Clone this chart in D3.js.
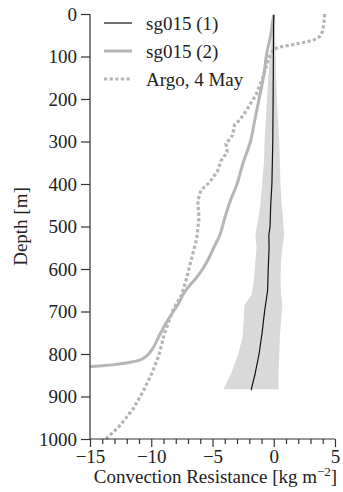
<!DOCTYPE html>
<html>
<head>
<meta charset="utf-8">
<script src="https://cdn.jsdelivr.net/npm/d3@7"></script>
<style>
html,body{margin:0;padding:0;background:#fff;}
svg text{font-family:"Liberation Serif","Times New Roman",serif;fill:#222;}
</style>
</head>
<body>
<svg id="chart" width="343" height="492"></svg>
<script>
// ---- data (depth in m, convection resistance in kg m^-2) ----
const sg1Depth = [2, 50, 100, 200, 300, 400, 450, 500, 520, 550, 600, 650, 690, 700, 750, 800, 850, 885];
const sg1Value = [0.0, -0.02, -0.03, -0.05, -0.08, -0.15, -0.25, -0.3, -0.4, -0.38, -0.45, -0.5, -0.7, -0.75, -0.95, -1.2, -1.55, -1.85];

const envDepth = [2, 50, 100, 150, 200, 250, 300, 350, 400, 450, 480, 520, 550, 580, 620, 660, 685, 720, 760, 800, 840, 883];
const envLow   = [-0.03, -0.15, -0.3, -0.45, -0.55, -0.65, -0.75, -0.8, -0.95, -1.1, -1.25, -1.5, -1.4, -1.5, -1.6, -1.8, -2.4, -2.45, -2.55, -2.9, -3.4, -4.1];
const envHigh  = [0.03, 0.12, 0.15, 0.2, 0.25, 0.35, 0.45, 0.5, 0.55, 0.65, 0.75, 0.85, 0.7, 0.6, 0.55, 0.6, 0.7, 0.6, 0.5, 0.45, 0.4, 0.38];

const sg2Depth = [2, 20, 50, 90, 150, 200, 250, 300, 350, 400, 440, 480, 520, 550, 580, 600, 620, 640, 660, 680, 700, 730, 760, 790, 805, 815, 820, 825, 828, 830];
const sg2Value = [0.0, -0.1, -0.25, -0.55, -0.85, -1.2, -1.55, -1.9, -2.5, -3.0, -3.55, -4.0, -4.4, -4.9, -5.4, -5.8, -6.3, -6.9, -7.4, -7.75, -8.2, -8.85, -9.4, -9.95, -10.4, -11.0, -11.8, -13.0, -14.2, -15];

const argoDepth = [0, 20, 40, 55, 62, 67, 72, 77, 82, 90, 100, 150, 190, 230, 250, 260, 285, 305, 325, 345, 370, 395, 415, 440, 480, 530, 580, 625, 660, 695, 750, 805, 845, 890, 930, 970, 1000];
const argoValue = [4.15, 4.1, 4.0, 3.7, 3.2, 2.4, 1.6, 0.6, 0.0, -0.15, -0.35, -0.9, -1.45, -2.3, -2.8, -3.2, -3.35, -3.9, -3.8, -4.3, -4.6, -5.2, -5.95, -6.2, -6.1, -6.3, -6.75, -7.15, -7.5, -8.2, -8.9, -9.4, -9.95, -10.7, -11.5, -12.6, -13.7];

const xMajorTicks = [-15, -10, -5, 0, 5];
const yTicks = [0, 100, 200, 300, 400, 500, 600, 700, 800, 900, 1000];
const legendLabels = ["sg015 (1)", "sg015 (2)", "Argo, 4 May"];

// ---- layout ----
const svg = d3.select("#chart");
const x = d3.scaleLinear().domain([-15, 5]).range([90, 335]);
const y = d3.scaleLinear().domain([0, 1000]).range([14, 439]);

const axisColor = "#333";
const shadeColor = "#d9d9d9";
const greyLine = "#b5b5b5";
const fontSize = 19;

// envelope
const envData = envDepth.map((d, i) => ({d, lo: envLow[i], hi: envHigh[i]}));
svg.append("path")
  .datum(envData)
  .attr("fill", shadeColor)
  .attr("stroke", "none")
  .attr("d", d3.area().y(p => y(p.d)).x0(p => x(p.lo)).x1(p => x(p.hi)));

const line = d3.line().x(p => x(p.v)).y(p => y(p.d));
const smoothLine = d3.line().x(p => x(p.v)).y(p => y(p.d)).curve(d3.curveMonotoneY);

// Argo dotted
svg.append("path")
  .datum(argoDepth.map((d, i) => ({d, v: argoValue[i]})))
  .attr("fill", "none").attr("stroke", greyLine)
  .attr("stroke-width", 3.2).attr("stroke-dasharray", "3.3,2.3")
  .attr("d", line);

// sg015 (2)
svg.append("path")
  .datum(sg2Depth.map((d, i) => ({d, v: sg2Value[i]})))
  .attr("fill", "none").attr("stroke", greyLine)
  .attr("stroke-width", 3)
  .attr("d", smoothLine);

// sg015 (1)
svg.append("path")
  .datum(sg1Depth.map((d, i) => ({d, v: sg1Value[i]})))
  .attr("fill", "none").attr("stroke", "#111")
  .attr("stroke-width", 1.2)
  .attr("d", line);

// ---- axes ----
const yAxis = d3.axisLeft(y).tickValues(yTicks).tickSize(9).tickPadding(4).tickFormat(d3.format("d"));
const gy = svg.append("g").attr("transform", `translate(${x(-15)},0)`).call(yAxis);
gy.attr("font-family", null).attr("font-size", null);
gy.select(".domain").attr("stroke", axisColor).attr("stroke-width", 1.2).attr("d", `M0,${y(0)}V${y(1000)}`);
gy.selectAll(".tick line").attr("stroke", axisColor).attr("stroke-width", 1.2);
gy.selectAll(".tick text").attr("font-size", fontSize).attr("fill", "#222");

const minorTicks = d3.range(-15, 6, 1).filter(v => !xMajorTicks.includes(v));
const gxMinor = svg.append("g").attr("transform", `translate(0,${y(1000)})`)
  .call(d3.axisBottom(x).tickValues(minorTicks).tickSize(5).tickFormat(""));
gxMinor.select(".domain").remove();
gxMinor.selectAll(".tick line").attr("stroke", axisColor).attr("stroke-width", 1.2);

const fmt = v => (v < 0 ? "\u2212" + Math.abs(v) : String(v));
const gx = svg.append("g").attr("transform", `translate(0,${y(1000)})`)
  .call(d3.axisBottom(x).tickValues(xMajorTicks).tickSize(8).tickPadding(2).tickFormat(fmt));
gx.attr("font-family", null).attr("font-size", null);
gx.select(".domain").attr("stroke", axisColor).attr("stroke-width", 1.2).attr("d", `M${x(-15)},0H${x(5)}`);
gx.selectAll(".tick line").attr("stroke", axisColor).attr("stroke-width", 1.2);
gx.selectAll(".tick text").attr("font-size", fontSize).attr("fill", "#222")
  .attr("dy", null).attr("y", 24);

// axis titles
const xt = svg.append("text")
  .attr("x", (x(-15) + x(5)) / 2 + 3).attr("y", 483)
  .attr("text-anchor", "middle").attr("font-size", fontSize);
xt.append("tspan").text("Convection Resistance [kg m");
xt.append("tspan").attr("dy", -7).attr("font-size", 13).text("\u22122");
xt.append("tspan").attr("dy", 7).text("]");

svg.append("text")
  .attr("transform", `translate(27,${(y(0) + y(1000)) / 2}) rotate(-90)`)
  .attr("text-anchor", "middle").attr("font-size", fontSize)
  .text("Depth [m]");

// ---- legend ----
const legendY = [23, 51, 79];
const legendStyles = [
  {stroke: "#111", width: 1.2, dash: null},
  {stroke: greyLine, width: 3, dash: null},
  {stroke: greyLine, width: 3.2, dash: "3.3,2.3"}
];
legendLabels.forEach((lab, i) => {
  const st = legendStyles[i];
  const l = svg.append("line")
    .attr("x1", 104).attr("x2", 132)
    .attr("y1", legendY[i]).attr("y2", legendY[i])
    .attr("stroke", st.stroke).attr("stroke-width", st.width);
  if (st.dash) l.attr("stroke-dasharray", st.dash);
  svg.append("text")
    .attr("x", 146).attr("y", legendY[i]).attr("dy", "0.35em")
    .attr("font-size", fontSize).text(lab);
});
</script>
</body>
</html>
